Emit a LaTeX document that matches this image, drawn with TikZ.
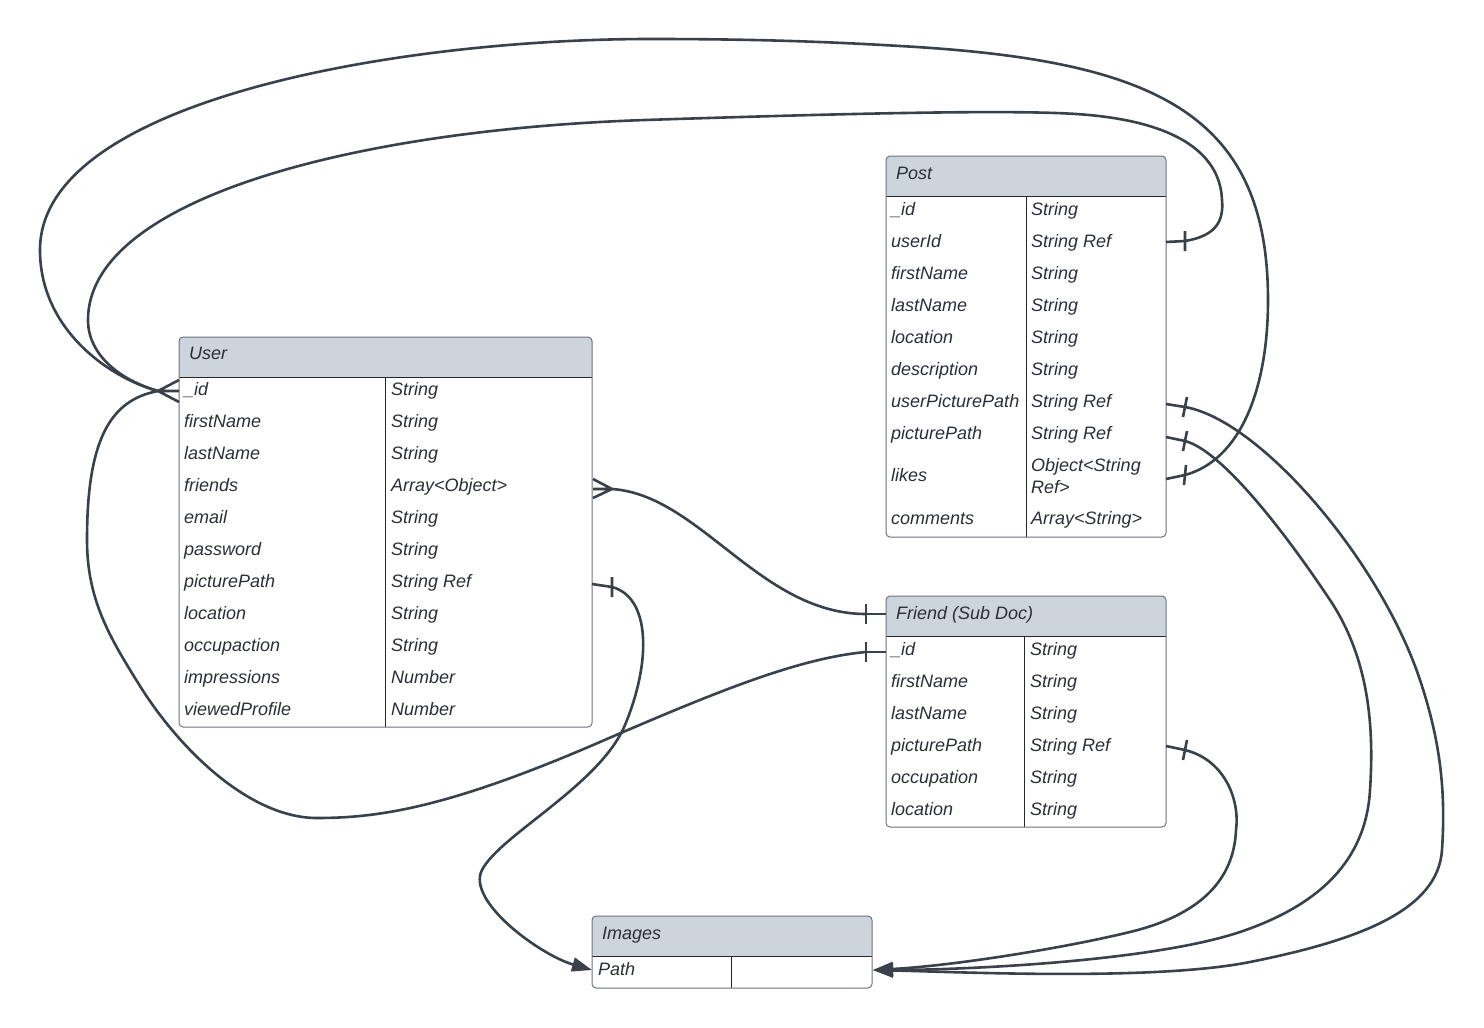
\documentclass[tikz,border=0pt]{standalone}
\usepackage{fontspec}
\setmainfont{Liberation Sans}
\usetikzlibrary{arrows.meta}
\definecolor{hdr}{HTML}{CED4DC}
\definecolor{edgec}{HTML}{3A414B}
\definecolor{bord}{HTML}{6E747C}
\definecolor{txt}{HTML}{2B2F36}
\newcommand\ertbl[6]{%
  \fill[hdr, rounded corners=4pt] (#1,#2) rectangle (#3,#5);
  \fill[hdr] (#1,{#5-10}) rectangle (#3,#5);
  \draw[sep] (#1,#5) -- (#3,#5) (#6,#5) -- (#6,#4);
  \draw[tbl] (#1,#2) rectangle (#3,#4);}
\begin{document}
\begin{tikzpicture}[x=1pt,y=-1pt,
  tbl/.style={draw=bord, line width=1pt, rounded corners=4pt},
  sep/.style={draw=black!85, line width=0.9pt},
  lbl/.style={anchor=base west, inner sep=0pt, text=txt, font=\fontsize{18}{21}\selectfont\itshape},
  conn/.style={draw=edgec, line width=2.6pt},
  arr/.style={-{Triangle[length=20pt,width=14pt]}}]
\useasboundingbox (0,0) rectangle (1484,1028);
\fill[white] (0,0) rectangle (1484,1028);

% ---------- tables ----------
\ertbl{179}{337}{592}{727}{377}{385}
\ertbl{886}{156}{1166}{537}{196}{1026}
\ertbl{886}{596}{1166}{827}{636}{1024}
\ertbl{592}{916}{872}{988}{956}{731}

% User
\node[lbl] (uH) at (189,359) {User};
\foreach \a/\b [count=\i from 0] in {\_id/String,firstName/String,lastName/String,friends/Array<Object>,email/String,password/String,picturePath/String Ref,location/String,occupaction/String,impressions/Number,viewedProfile/Number}{
  \node[lbl] (u\i a) at (184,{395+32*\i}) {\a};
  \node[lbl] (u\i b) at (391,{395+32*\i}) {\b};
}
% Post
\node[lbl] (pH) at (896,179) {Post};
\foreach \a/\b [count=\i from 0] in {\_id/String,userId/String Ref,firstName/String,lastName/String,location/String,description/String,userPicturePath/String Ref,picturePath/String Ref}{
  \node[lbl] (p\i a) at (891,{215+32*\i}) {\a};
  \node[lbl] (p\i b) at (1031,{215+32*\i}) {\b};
}
\node[lbl] (p8a) at (891,481) {likes};
\node[lbl] (p8b) at (1031,471) {Object<String};
\node[lbl] (p8c) at (1031,493) {Ref>};
\node[lbl] (p9a) at (891,524) {comments};
\node[lbl] (p9b) at (1031,524) {Array<String>};
% Friend
\node[lbl] (fH) at (896,619) {Friend (Sub Doc)};
\foreach \a/\b [count=\i from 0] in {\_id/String,firstName/String,lastName/String,picturePath/String Ref,occupation/String,location/String}{
  \node[lbl] (f\i a) at (891,{655+32*\i}) {\a};
  \node[lbl] (f\i b) at (1030,{655+32*\i}) {\b};
}
% Images
\node[lbl] (iH) at (602,939) {Images};
\node[lbl] (i0a) at (598,975) {Path};

% ---------- connector end points ----------
\coordinate (uIdV) at (158,391);
\coordinate (uFrV) at (612,489);
\coordinate (uPicE) at (592,584);
\coordinate (uPicT) at (612,587);
\coordinate (pUidE) at (1166,242);
\coordinate (pUidT) at (1185,241);
\coordinate (pUppE) at (1166,404);
\coordinate (pUppT) at (1185,407);
\coordinate (pPicE) at (1166,437);
\coordinate (pPicT) at (1185,441);
\coordinate (pLikE) at (1166,479);
\coordinate (pLikT) at (1185,475);
\coordinate (fHdE) at (886,614);
\coordinate (fHdT) at (866,614);
\coordinate (fIdE) at (886,652);
\coordinate (fIdT) at (866,652);
\coordinate (fPicE) at (1166,746);
\coordinate (fPicT) at (1185,750);
\coordinate (imgR) at (873,970);
\coordinate (imgL) at (592,970);

% crow's feet
\draw[conn] (179,380) -- (uIdV) -- (179,402) (uIdV) -- (179,391);
\draw[conn] (593,479) -- (uFrV) -- (593,498) (uFrV) -- (593,489);

% stubs and ticks
\draw[conn] (pUidE) -- (pUidT) (pUidT) ++(0,-10) -- ++(0,20);
\draw[conn] (pUppE) -- (pUppT) (pUppT) ++(2,-10) -- ++(-4,20);
\draw[conn] (pPicE) -- (pPicT) (pPicT) ++(2,-10) -- ++(-4,20);
\draw[conn] (pLikE) -- (pLikT) (pLikT) ++(1,-10) -- ++(-2,20);
\draw[conn] (fHdE) -- (fHdT) (fHdT) ++(0,-10) -- ++(0,20);
\draw[conn] (fIdE) -- (fIdT) (fIdT) ++(0,-10) -- ++(0,20);
\draw[conn] (fPicE) -- (fPicT) (fPicT) ++(2,-10) -- ++(-4,20);
\draw[conn] (uPicE) -- (uPicT) (uPicT) ++(0,-10) -- ++(0,20);

% Post likes -> User _id (outer arc)
\draw[conn] (pLikT) .. controls (1240,460) and (1268,390) .. (1268,300)
  .. controls (1268,110) and (1150,60) .. (900,46)
  .. controls (800,40) and (720,39) .. (650,39)
  .. controls (400,39) and (40,100) .. (40,250)
  .. controls (40,330) and (110,378) .. (uIdV);
% Post userId -> User _id (inner arc)
\draw[conn] (pUidT) .. controls (1215,236) and (1224,222) .. (1222,200)
  .. controls (1220,150) and (1170,120) .. (1076,114)
  .. controls (1000,109) and (800,115) .. (645,120)
  .. controls (350,130) and (88,200) .. (88,320)
  .. controls (88,355) and (120,380) .. (uIdV);
% Friend _id -> User _id
\draw[conn] (fIdT) .. controls (800,658) and (720,690) .. (600,742)
  .. controls (450,807) and (380,818) .. (317,818)
  .. controls (250,818) and (180,750) .. (140,686)
  .. controls (110,638) and (87,600) .. (87,540)
  .. controls (87,440) and (110,400) .. (uIdV);
% User friends -> Friend
\draw[conn] (uFrV) .. controls (700,495) and (760,614) .. (fHdT);
% User picturePath -> Images
\draw[conn, arr] (uPicT) .. controls (650,597) and (652,660) .. (625,725)
  .. controls (600,785) and (500,835) .. (482,870)
  .. controls (466,901) and (540,955) .. (imgL);
% Friend picturePath -> Images
\draw[conn, arr] (fPicT) .. controls (1225,760) and (1240,800) .. (1236,830)
  .. controls (1234,880) and (1200,915) .. (1130,932)
  .. controls (1060,949) and (950,966) .. (imgR);
% Post picturePath -> Images
\draw[conn, arr] (pPicT) .. controls (1220,450) and (1280,525) .. (1330,600)
  .. controls (1370,660) and (1374,730) .. (1370,790)
  .. controls (1366,860) and (1320,905) .. (1240,932)
  .. controls (1150,962) and (960,970) .. (imgR);
% Post userPicturePath -> Images
\draw[conn, arr] (pUppT) .. controls (1260,420) and (1380,560) .. (1420,680)
  .. controls (1440,740) and (1446,790) .. (1442,850)
  .. controls (1438,910) and (1360,940) .. (1250,962)
  .. controls (1155,981) and (960,972) .. (imgR);
\end{tikzpicture}
\end{document}
